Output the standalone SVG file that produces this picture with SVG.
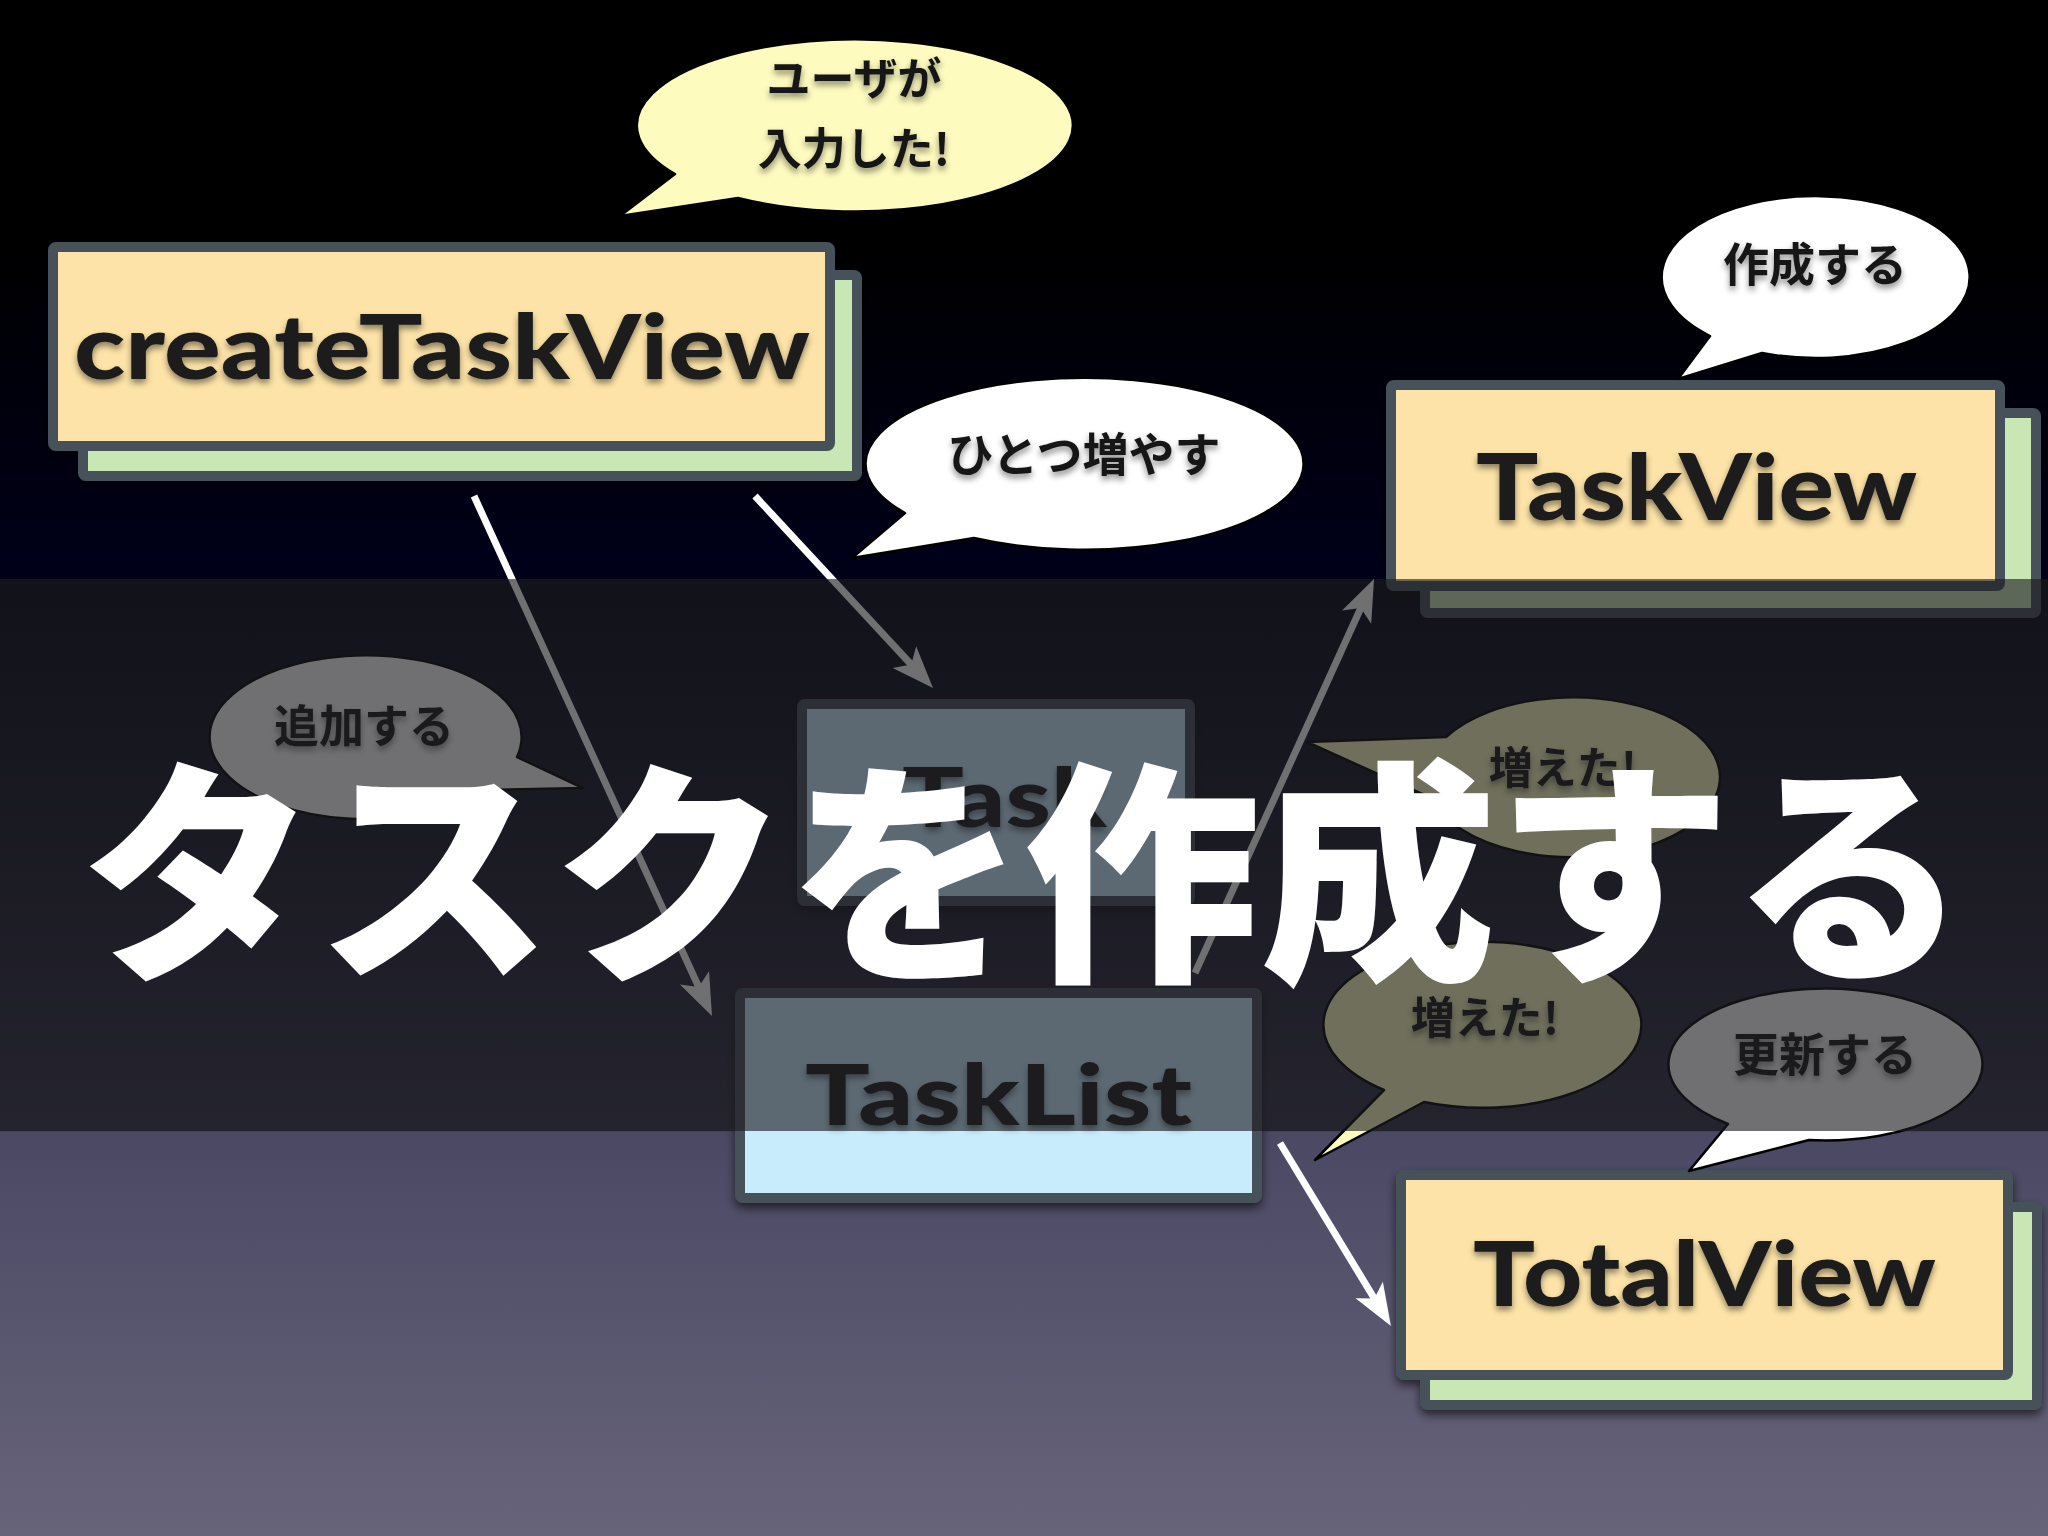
<svg xmlns="http://www.w3.org/2000/svg" width="2048" height="1536" viewBox="0 0 2048 1536">
<defs>
<linearGradient id="bg" x1="0" y1="0" x2="0" y2="1">
<stop offset="0" stop-color="#000000"/>
<stop offset="0.15" stop-color="#000000"/>
<stop offset="0.376" stop-color="#00001a"/>
<stop offset="0.377" stop-color="#00000e"/>
<stop offset="0.736" stop-color="#343245"/>
<stop offset="0.737" stop-color="#4a4863"/>
<stop offset="1" stop-color="#67647a"/>
</linearGradient>
<filter id="sh" x="-10%" y="-10%" width="120%" height="130%">
<feDropShadow dx="0" dy="5" stdDeviation="5" flood-color="#000" flood-opacity="0.6"/>
</filter>
<filter id="tsh" x="-10%" y="-20%" width="120%" height="150%">
<feDropShadow dx="0" dy="4" stdDeviation="3" flood-color="#000" flood-opacity="0.45"/>
</filter>
<marker id="ah" markerUnits="userSpaceOnUse" markerWidth="60" markerHeight="40" viewBox="-45 -20 50 40" refX="-30" refY="0" orient="auto">
<path d="M0,0 L-42,-16 L-32,0 L-42,16 Z" fill="#ffffff"/>
</marker>
<style>
.front{fill:#fde3a7;stroke:#46515a;stroke-width:10}
.back{fill:#c9e6b5;stroke:#46515a;stroke-width:10}
.blue{fill:#c8ecfc;stroke:#46515a;stroke-width:10}
.label{font-family:Lato,'Open Sans','DejaVu Sans',sans-serif;font-weight:900;fill:#1c1c1c}
.bt{font-family:'Noto Sans CJK JP',sans-serif;font-weight:700;fill:#161616;text-anchor:middle}
.bubble{stroke:#000;stroke-width:2.5;stroke-linejoin:round}
.arrow{stroke:#ffffff;stroke-width:7;fill:none}
</style>
</defs>
<rect x="0" y="0" width="2048" height="1536" fill="url(#bg)"/>

<g id="connectors">
<line class="arrow" x1="474" y1="496" x2="699.5" y2="988.7" marker-end="url(#ah)"/>
<line class="arrow" x1="755" y1="496" x2="912.6" y2="666" marker-end="url(#ah)"/>
<line class="arrow" x1="1195" y1="973" x2="1361.6" y2="606.3" marker-end="url(#ah)"/>
<line class="arrow" x1="1280" y1="1143" x2="1375.4" y2="1300.3" marker-end="url(#ah)"/>
</g>

<g id="node-createTaskView" filter="url(#sh)">
<rect class="back" x="83" y="275" width="774" height="201" rx="3"/>
<rect class="front" x="53" y="247" width="777" height="199" rx="3"/>
<text class="label" x="74" y="379" font-size="90" textLength="736" lengthAdjust="spacingAndGlyphs" filter="url(#tsh)">createTaskView</text>
</g>

<g id="node-TaskView" filter="url(#sh)">
<rect class="back" x="1425" y="413" width="611" height="200" rx="3"/>
<rect class="front" x="1391" y="385" width="609" height="201" rx="3"/>
<text class="label" x="1476" y="520" font-size="92" textLength="441" lengthAdjust="spacingAndGlyphs" filter="url(#tsh)">TaskView</text>
</g>

<g id="node-Task" filter="url(#sh)">
<rect class="blue" x="802" y="704" width="388" height="197" rx="3"/>
<text class="label" x="902" y="827" font-size="82" textLength="205" lengthAdjust="spacingAndGlyphs" filter="url(#tsh)">Task</text>
</g>

<g id="node-TaskList" filter="url(#sh)">
<rect class="blue" x="740" y="993" width="517" height="205" rx="3"/>
<text class="label" x="805" y="1125" font-size="84" textLength="387" lengthAdjust="spacingAndGlyphs" filter="url(#tsh)">TaskList</text>
</g>

<g id="node-TotalView" filter="url(#sh)">
<rect class="back" x="1425" y="1207" width="612" height="198" rx="3"/>
<rect class="front" x="1401" y="1175" width="607" height="200" rx="3"/>
<text class="label" x="1473" y="1306" font-size="90" textLength="463" lengthAdjust="spacingAndGlyphs" filter="url(#tsh)">TotalView</text>
</g>

<g id="bubble-user">
<path class="bubble" fill="#fdfbbe" d="M675,174 A218,86 0 1 1 738,198 L620,216 Z"/>
<text class="bt" x="854" y="95" font-size="44" filter="url(#tsh)">ユーザが</text>
<text class="bt" x="854" y="165" font-size="44" filter="url(#tsh)">入力した!</text>
</g>

<g id="bubble-hitotsu">
<path class="bubble" fill="#ffffff" d="M905,513 A219,86 0 1 1 974,538 L852,558 Z"/>
<text class="bt" x="1084" y="471" font-size="46" filter="url(#tsh)">ひとつ増やす</text>
</g>

<g id="bubble-sakusei">
<path class="bubble" fill="#ffffff" d="M1710,336 A154,81 0 1 1 1762,353 L1678,379 Z"/>
<text class="bt" x="1815" y="281" font-size="46" filter="url(#tsh)">作成する</text>
</g>

<g id="bubble-tsuika">
<path class="bubble" fill="#ffffff" d="M485,790 A156,82 0 1 1 517,757 L583,788 Z"/>
<text class="bt" x="364" y="743" font-size="45" filter="url(#tsh)">追加する</text>
</g>

<g id="bubble-fueta1">
<path class="bubble" fill="#fdfbbe" d="M1446,737 A147,80 0 1 1 1431,798 L1307,742 Z"/>
<text class="bt" x="1563" y="784" font-size="44" filter="url(#tsh)">増えた!</text>
</g>

<g id="bubble-fueta2">
<path class="bubble" fill="#fdfbbe" d="M1384,1090 A159,83 0 1 1 1424,1102 L1315,1160 Z"/>
<text class="bt" x="1485" y="1034" font-size="44" filter="url(#tsh)">増えた!</text>
</g>

<g id="bubble-koushin">
<path class="bubble" fill="#ffffff" d="M1728,1124 A157,76 0 1 1 1809,1140 L1689,1171 Z"/>
<text class="bt" x="1825" y="1071" font-size="46" filter="url(#tsh)">更新する</text>
</g>

<rect id="band" x="0" y="579" width="2048" height="552" fill="#1c1c22" fill-opacity="0.63"/>

<text id="title" x="1024" y="963" font-family="'Noto Sans CJK JP',sans-serif" font-weight="900" font-size="236" fill="#ffffff" text-anchor="middle">タスクを作成する</text>
</svg>
